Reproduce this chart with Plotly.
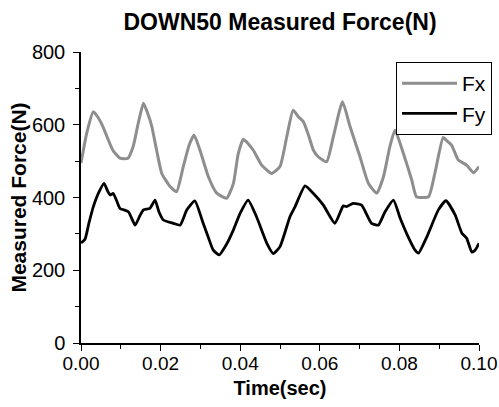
import plotly.graph_objects as go

# ---- data ----
t_fx = [0.0000, 0.0015, 0.0031, 0.0043, 0.0055, 0.0068, 0.0080, 0.0098, 0.0118, 0.0131,
        0.0145, 0.0157, 0.0168, 0.0178, 0.0190, 0.0203, 0.0224, 0.0240, 0.0257, 0.0272,
        0.0284, 0.0299, 0.0320, 0.0341, 0.0366, 0.0383, 0.0395, 0.0408, 0.0420, 0.0433,
        0.0454, 0.0479, 0.0500, 0.0517, 0.0533, 0.0546, 0.0559, 0.0572, 0.0584, 0.0596,
        0.0617, 0.0634, 0.0657, 0.0676, 0.0701, 0.0722, 0.0743, 0.0760, 0.0776, 0.0789,
        0.0810, 0.0831, 0.0843, 0.0873, 0.0889, 0.0910, 0.0920, 0.0931, 0.0948, 0.0969,
        0.0986, 0.1000]
fx = [495, 580, 636, 620, 595, 560, 530, 508, 508, 540,
      610, 659, 630, 595, 530, 466, 430, 416, 485, 545,
      572, 530, 457, 412, 398, 439, 520, 560, 548, 530,
      489, 466, 485, 567, 640, 622, 608, 570, 530, 512,
      498, 567, 663, 595, 512, 439, 412, 457, 540, 585,
      521, 448, 402, 402, 466, 565, 555, 544, 503, 489,
      468, 485]

t_fy = [0.0000, 0.0010, 0.0020, 0.0031, 0.0045, 0.0058, 0.0066, 0.0073, 0.0081, 0.0090,
        0.0098, 0.0119, 0.0136, 0.0148, 0.0157, 0.0173, 0.0186, 0.0196, 0.0207, 0.0232,
        0.0249, 0.0266, 0.0286, 0.0307, 0.0320, 0.0332, 0.0347, 0.0365, 0.0383, 0.0400,
        0.0420, 0.0441, 0.0467, 0.0483, 0.0500, 0.0525, 0.0538, 0.0563, 0.0584, 0.0609,
        0.0638, 0.0659, 0.0667, 0.0684, 0.0705, 0.0730, 0.0747, 0.0764, 0.0785, 0.0802,
        0.0822, 0.0839, 0.0848, 0.0869, 0.0898, 0.0917, 0.0940, 0.0957, 0.0969, 0.0982,
        0.0990, 0.1000]
fy = [275, 285, 330, 375, 415, 439, 420, 407, 411, 390,
      370, 361, 324, 350, 366, 370, 393, 360, 338, 329,
      324, 366, 391, 329, 290, 256, 242, 270, 311, 357,
      393, 347, 274, 246, 265, 347, 375, 432, 411, 379,
      329, 377, 375, 384, 379, 329, 324, 361, 393, 343,
      292, 256, 247, 292, 366, 391, 352, 302, 288, 250,
      255, 274]

x_ticks = [0.00, 0.02, 0.04, 0.06, 0.08, 0.10]
x_tick_labels = ["0.00", "0.02", "0.04", "0.06", "0.08", "0.10"]
y_ticks = [0, 200, 400, 600, 800]
y_tick_labels = ["0", "200", "400", "600", "800"]

FONT = "Arial, Liberation Sans, sans-serif"

fig = go.Figure()
fig.add_trace(go.Scatter(x=t_fx, y=fx, mode="lines", name="Fx",
                         line=dict(color="#8e8e8e", width=3, shape="spline", smoothing=0.5)))
fig.add_trace(go.Scatter(x=t_fy, y=fy, mode="lines", name="Fy",
                         line=dict(color="#000000", width=2.8, shape="spline", smoothing=0.5)))

fig.update_layout(
    width=499, height=407,
    margin=dict(l=81, r=20, t=52, b=64, autoexpand=False),
    paper_bgcolor="white", plot_bgcolor="white",
    font=dict(family=FONT, color="black", size=20),
    title=dict(text="<b>DOWN50 Measured Force(N)</b>", x=280/499, xanchor="center",
               y=1 - 22/407, yanchor="middle", font=dict(size=23, family=FONT)),
    showlegend=True,
    legend=dict(x=(396-81)/398, xanchor="left", y=(343-62)/291, yanchor="top",
                bgcolor="white", bordercolor="black", borderwidth=1,
                font=dict(size=21, family=FONT), itemwidth=55, tracegroupgap=0),
    xaxis=dict(range=[0, 0.1], tickvals=x_ticks, ticktext=x_tick_labels,
               showline=True, linecolor="black", linewidth=1.5, mirror=False,
               showgrid=False, zeroline=False, ticks="outside", ticklen=6, tickwidth=1.3,
               tickcolor="black", tickfont=dict(size=19), ticklabelstandoff=-4,
               minor=dict(dtick=0.01, ticks="outside", ticklen=4, tickwidth=1, tickcolor="black"),
               title=dict(text="<b>Time(sec)</b>", font=dict(size=20, family=FONT), standoff=8)),
    yaxis=dict(range=[0, 800], tickvals=y_ticks, ticktext=y_tick_labels,
               showline=True, linecolor="black", linewidth=1.5, mirror=False,
               showgrid=False, zeroline=False, ticks="outside", ticklen=6, tickwidth=1.3,
               tickcolor="black", tickfont=dict(size=20), ticklabelstandoff=4,
               minor=dict(dtick=100, ticks="outside", ticklen=4, tickwidth=1, tickcolor="black"),
               title=dict(text="<b>Measured Force(N)</b>", font=dict(size=21, family=FONT), standoff=0)),
)

fig.write_html("out.html", config={"displayModeBar": False},
               post_script="document.body.style.margin='0px';")
